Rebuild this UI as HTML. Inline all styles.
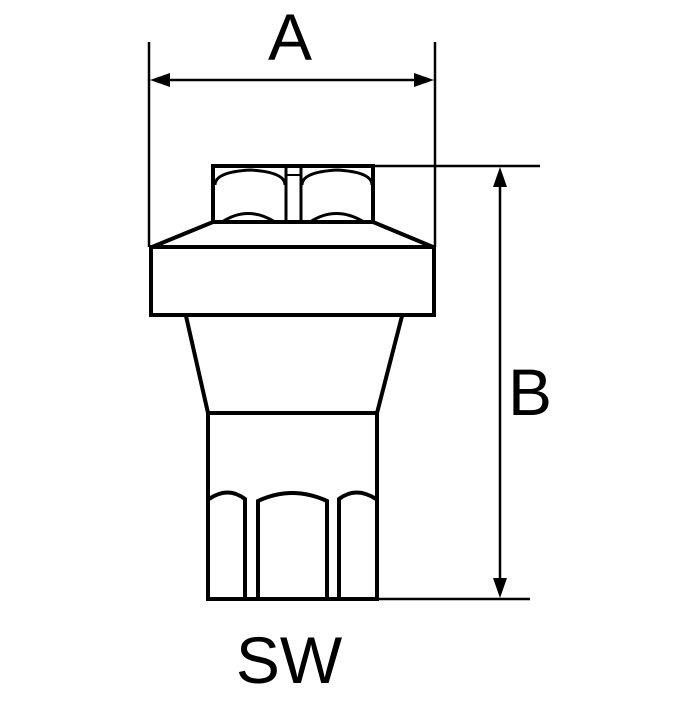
<!DOCTYPE html>
<html><head><meta charset="utf-8"><style>html,body{margin:0;padding:0;background:#fff}</style></head>
<body>
<svg width="700" height="700" viewBox="0 0 700 700" xmlns="http://www.w3.org/2000/svg">
<g fill="none" stroke="#000" stroke-width="2.5">
<line x1="149" y1="42" x2="149" y2="247"/>
<line x1="435" y1="42" x2="435" y2="247"/>
<line x1="160" y1="80" x2="424" y2="80"/>
<line x1="373" y1="166" x2="540" y2="166"/>
<line x1="377" y1="599" x2="530" y2="599"/>
<line x1="500" y1="178" x2="500" y2="588"/>
</g>
<g fill="none" stroke="#000" stroke-width="4">
<rect x="213" y="166" width="160" height="56"/>
<line x1="286" y1="166" x2="286" y2="222" stroke-width="3"/>
<line x1="301" y1="166" x2="301" y2="222" stroke-width="3"/>
<line x1="286" y1="175" x2="301" y2="175" stroke-width="2"/>
<path d="M215,185 Q215,172 250,170 Q285,172 285,185" stroke-width="3"/>
<path d="M302,185 Q302,172 337,170 Q372,172 372,185" stroke-width="3"/>
<path d="M222,222 Q248,205 275,222" stroke-width="3"/>
<path d="M310,222 Q336,205 364,222" stroke-width="3"/>
<path d="M152,247 L213,222 M373,222 L433,247"/>
<rect x="151" y="247" width="283" height="68"/>
<path d="M186,316 L208,413 M402,316 L377,413"/>
<rect x="208" y="413" width="169" height="186"/>
<path d="M209,499 Q228,486 245,499 L245,599"/>
<path d="M258,599 L258,501 Q292,485 327,501 L327,599"/>
<path d="M339,599 L339,499 Q356,486 376,499"/>
</g>
<g fill="#000">
<polygon points="150,80 170,73 170,87"/>
<polygon points="434,80 414,73 414,87"/>
<polygon points="500,167 493,187 507,187"/>
<polygon points="500,598 493,578 507,578"/>
</g>
<g font-family="'Liberation Sans', sans-serif" font-size="66" fill="#000" text-anchor="middle">
<text x="290" y="60">A</text>
<text x="530" y="415">B</text>
<text x="289" y="683">SW</text>
</g>
</svg>
</body></html>
